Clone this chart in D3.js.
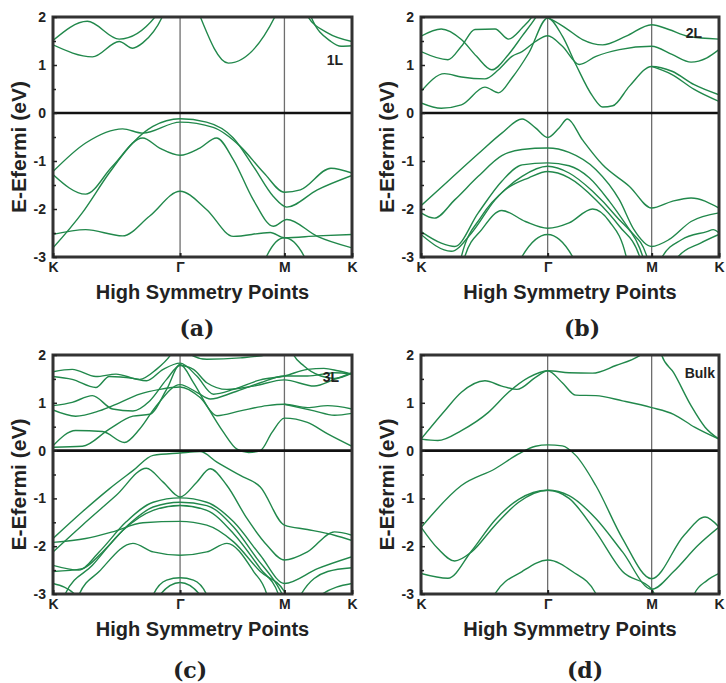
<!DOCTYPE html>
<html><head><meta charset="utf-8">
<script src="https://cdn.jsdelivr.net/npm/d3@7/dist/d3.min.js"></script>
<style>body{margin:0;background:#fff}svg text{font-family:"Liberation Sans",Arial,sans-serif;font-weight:bold;fill:#222}</style>
</head><body><svg id="chart" width="726" height="683"></svg>
<script>
// ---------- data ----------
const kLabels = ["K", "Γ", "M", "K"];
const kTicks = [0, 1, 2, 3];
const yTicks = [2, 1, 0, -1, -2, -3];
const yMinor = [1.5, 0.5, -0.5, -1.5, -2.5];
const panelLabels = ["(a)", "(b)", "(c)", "(d)"];
const layerLabels = ["1L", "2L", "3L", "Bulk"];
const xTitle = "High Symmetry Points";
const yTitle = "E-Efermi (eV)";

// each band: [k, E] with k = 0 (K), 1 (Γ), 2 (M), 3 (K)
const bandsA = [
  [[0,1.51],[0.27,1.91],[0.521,1.54],[0.812,2.03],[0.85,2.2]],
  [[0,1.42],[0.31,1.17],[0.521,1.49],[0.627,1.35],[0.706,1.46],[0.865,2.03],[0.9,2.25]],
  [[1.15,2.25],[1.189,2.03],[1.462,1.04],[1.91,2.01],[1.95,2.25]],
  [[2.3,2.25],[2.337,2.03],[2.638,1.67],[3,1.49]],
  [[2.35,2.25],[2.387,2.03],[2.688,1.49],[2.839,1.39],[3,1.40]],
  [[0,-1.22],[0.257,-0.625],[0.548,-0.33],[0.706,-0.42],[1,-0.19],[1.317,-0.3],[1.574,-0.69],[1.804,-1.25],[2,-1.65],[2.236,-1.60],[2.688,-1.15],[3,-1.25]],
  [[0,-2.81],[0.23,-2.08],[0.442,-1.25],[0.627,-0.625],[0.786,-0.28],[1,-0.12],[1.253,-0.19],[1.51,-0.52],[1.702,-1.11],[1.894,-1.74],[2.035,-1.96],[2.487,-1.60],[3,-1.3]],
  [[0,-1.28],[0.257,-1.69],[0.468,-1.11],[0.706,-0.52],[0.839,-0.73],[1,-0.88],[1.189,-0.73],[1.349,-0.52],[1.51,-0.97],[1.702,-1.81],[1.894,-2.36],[2.035,-2.22],[2.487,-2.57],[3,-2.81]],
  [[0,-2.53],[0.257,-2.43],[0.548,-2.56],[0.759,-2.15],[1,-1.63],[1.253,-2.01],[1.51,-2.57],[1.865,-2.49],[2,-2.6],[2.487,-2.56],[3,-2.53]],
  [[1.8,-3.2],[1.833,-2.97],[2,-2.6],[2.286,-2.97],[2.32,-3.2]]
];

const bandsB = [
  [[0,1.6],[0.16,1.75],[0.319,1.53],[0.439,1.18],[0.559,0.9],[0.691,1.22],[0.798,1.6],[0.904,1.98],[0.957,2.2]],
  [[0,1.28],[0.213,1.11],[0.319,1.39],[0.426,1.74],[0.585,1.75],[0.691,1.54],[0.798,1.77],[0.878,2.01],[0.92,2.2]],
  [[0,0.45],[0.186,0.82],[0.319,0.75],[0.505,0.71],[0.612,0.9],[0.718,1.18],[0.798,1.28],[0.904,1.49],[1,1.61],[1.142,1.39],[1.303,1.01],[1.465,1.18],[1.69,1.32],[2,1.39],[2.302,1.22],[2.585,1.06],[2.821,1.15],[3,1.32]],
  [[0.9,2.2],[0.95,2.02],[1,1.98],[1.174,1.77],[1.335,1.53],[1.529,1.42],[1.755,1.6],[2,1.84],[2.255,1.74],[2.538,1.6],[3,1.54]],
  [[0,0.21],[0.16,0.1],[0.319,0.17],[0.505,0.54],[0.612,0.42],[0.718,0.73],[0.851,1.25],[1,1.98],[1.142,1.6],[1.271,1.01],[1.432,0.35],[1.529,0.125],[1.626,0.15],[1.787,0.56],[2,0.97],[2.302,0.87],[2.632,0.59],[3,0.38]],
  [[2,0.97],[2.302,0.8],[2.632,0.49],[3,0.24]],
  [[0,-1.93],[0.213,-1.42],[0.452,-0.85],[0.638,-0.42],[0.798,-0.125],[0.904,-0.31],[1,-0.51],[1.11,-0.31],[1.19,-0.125],[1.335,-0.56],[1.529,-1.08],[1.787,-1.53],[2,-1.98],[2.302,-1.84],[2.585,-1.77],[3,-1.98]],
  [[0,-2.08],[0.106,-2.19],[0.266,-1.81],[0.452,-1.32],[0.638,-0.89],[0.798,-0.76],[1,-0.73],[1.206,-0.82],[1.465,-1.18],[1.69,-1.81],[1.83,-2.43],[2,-2.78],[2.255,-2.64],[2.585,-2.26],[3,-2.08]],
  [[0,-2.47],[0.16,-2.71],[0.266,-2.78],[0.452,-2.08],[0.638,-1.42],[0.798,-1.08],[1,-1.04],[1.206,-1.1],[1.4,-1.35],[1.594,-1.84],[1.787,-2.43],[1.948,-2.95],[1.98,-3.2]],
  [[0,-2.53],[0.239,-2.88],[0.399,-2.5],[0.585,-1.81],[0.798,-1.32],[1,-1.11],[1.206,-1.25],[1.432,-1.63],[1.658,-2.15],[1.884,-2.81],[1.948,-3.2]],
  [[0.3,-3.2],[0.319,-2.99],[0.479,-2.15],[0.665,-1.6],[0.851,-1.35],[1,-1.22],[1.206,-1.35],[1.465,-1.81],[1.69,-2.36],[1.884,-2.99],[1.9,-3.2]],
  [[0.33,-3.2],[0.346,-2.99],[0.479,-2.43],[0.638,-2.03],[0.824,-2.26],[1,-2.4],[1.206,-2.29],[1.432,-2.0],[1.594,-2.26],[1.755,-2.99],[1.77,-3.2]],
  [[0.77,-3.2],[0.798,-2.99],[1,-2.53],[1.239,-2.99],[1.26,-3.2]],
  [[2.13,-3.2],[2.16,-2.99],[2.443,-2.64],[2.82,-2.47],[2.915,-2.43],[3,-2.5]],
  [[2.37,-3.2],[2.396,-2.99],[2.726,-2.71],[3,-2.53]]
];

const bandsC = [
  [[0,1.65],[0.151,1.7],[0.337,1.55],[0.496,1.6],[0.682,1.49],[0.814,1.7],[0.92,1.98],[0.973,2.2]],
  [[0,1.55],[0.151,1.49],[0.337,1.32],[0.443,1.55],[0.629,1.51],[0.735,1.46],[0.867,1.7],[1,1.83],[1.16,1.56],[1.32,1.18],[1.513,1.28],[1.769,1.48],[2,1.56],[2.34,1.7],[2.585,1.72],[2.79,1.67],[3,1.6]],
  [[0,0.94],[0.151,1.01],[0.31,1.15],[0.469,0.87],[0.629,0.83],[0.761,1.04],[0.894,1.49],[1,1.78],[1.128,1.7],[1.256,1.42],[1.449,1.28],[1.705,1.35],[2,1.48],[2.44,1.35],[2.74,1.49],[3,1.63]],
  [[0,0.85],[0.178,0.72],[0.363,0.83],[0.523,1.0],[0.682,1.18],[0.841,1.28],[1,1.33],[1.192,1.11],[1.353,0.73],[1.577,0.83],[1.833,0.94],[2,0.97],[2.34,0.9],[2.64,0.94],[3,0.87]],
  [[0,0.1],[0.178,0.42],[0.39,0.4],[0.562,0.17],[0.682,0.45],[0.814,0.94],[1,1.38],[1.16,1.22],[1.29,1.08],[1.513,1.22],[1.769,1.42],[2,1.56],[2.34,1.56],[2.74,1.63],[3,1.6]],
  [[0,0.07],[0.231,0.09],[0.443,0.45],[0.629,0.72],[0.761,0.76],[0.894,1.28],[1,1.8],[1.128,1.42],[1.256,0.94],[1.417,0.38],[1.545,0.03],[1.657,-0.04],[1.769,0.0],[1.881,0.38],[2,0.68],[2.34,0.59],[2.64,0.35],[3,0.09]],
  [[1.03,2.2],[1.064,2.06],[1.256,1.91],[1.577,1.94],[1.833,2.01],[1.96,2.2]],
  [[2.1,2.2],[2.115,2.06],[2.29,1.77],[2.54,1.56],[2.74,1.51],[3,1.62]],
  [[2,0.97],[2.44,0.83],[2.74,0.74],[3,0.78]],
  [[0,-1.84],[0.231,-1.28],[0.443,-0.8],[0.629,-0.42],[0.788,-0.1],[1,-0.05],[1.192,-0.02],[1.353,-0.24],[1.577,-0.52],[1.769,-0.76],[2,-1.56],[2.34,-1.65],[2.74,-1.77],[3,-1.88]],
  [[0,-2.12],[0.231,-1.56],[0.496,-0.94],[0.735,-0.37],[0.867,-0.66],[1,-0.97],[1.16,-0.66],[1.288,-0.38],[1.449,-0.73],[1.641,-1.42],[1.833,-1.98],[2,-2.29],[2.34,-2.12],[2.74,-1.7],[3,-1.77]],
  [[0,-2.4],[0.204,-2.5],[0.363,-2.12],[0.576,-1.49],[0.788,-1.08],[1,-0.99],[1.256,-1.08],[1.513,-1.49],[1.769,-2.19],[2,-2.78],[2.49,-2.47],[3,-2.22]],
  [[0,-2.53],[0.231,-2.47],[0.39,-2.12],[0.602,-1.53],[0.788,-1.18],[1,-1.08],[1.256,-1.15],[1.513,-1.6],[1.737,-2.26],[1.929,-2.81],[2.04,-3.2]],
  [[0.07,-3.2],[0.098,-2.99],[0.31,-2.4],[0.549,-1.67],[0.788,-1.25],[1,-1.15],[1.256,-1.25],[1.513,-1.74],[1.769,-2.47],[1.945,-3.02],[1.96,-3.2]],
  [[0,-1.92],[0.257,-1.84],[0.469,-1.7],[0.708,-1.51],[1,-1.48],[1.256,-1.56],[1.513,-1.91],[1.769,-2.53],[2,-2.95],[2.05,-3.2]],
  [[0.18,-3.2],[0.204,-3.02],[0.363,-2.53],[0.629,-1.94],[0.788,-2.12],[1,-2.19],[1.256,-2.12],[1.449,-1.94],[1.705,-2.53],[1.833,-3.02],[1.85,-3.2]],
  [[0.76,-3.2],[0.788,-3.02],[0.894,-2.71],[1,-2.66],[1.128,-2.71],[1.256,-3.02],[1.28,-3.2]],
  [[0.82,-3.2],[0.841,-3.02],[1,-2.76],[1.192,-3.02],[1.21,-3.2]],
  [[2.2,-3.2],[2.24,-3.02],[2.64,-2.53],[3,-2.45]],
  [[2.5,-3.2],[2.54,-3.02],[3,-2.78]],
  [[0,-2.78],[0.178,-3.02],[0.2,-3.2]]
];

const bandsD = [
  [[0,0.24],[0.133,0.21],[0.319,0.42],[0.532,0.8],[0.691,1.22],[0.851,1.53],[1,1.67],[1.206,1.63],[1.431,1.62],[1.656,1.78],[1.881,1.98],[2.02,2.2]],
  [[0,0.24],[0.186,0.83],[0.319,1.22],[0.505,1.46],[0.638,1.35],[0.758,1.28],[0.904,1.53],[1,1.67],[1.141,1.42],[1.27,1.16],[1.463,1.15],[1.72,1.04],[2,0.9],[2.326,0.76],[2.637,0.49],[3,0.24]],
  [[2.12,2.2],[2.145,2.01],[2.326,1.63],[2.585,0.94],[2.793,0.49],[3,0.24]],
  [[0,-1.61],[0.319,-0.73],[0.585,-0.38],[0.771,-0.07],[0.904,0.09],[1,0.12],[1.141,0.1],[1.27,-0.1],[1.463,-0.73],[1.72,-1.84],[2,-2.68],[2.482,-1.77],[2.793,-1.39],[3,-1.6]],
  [[0,-1.6],[0.133,-2.05],[0.266,-2.31],[0.399,-2.12],[0.585,-1.56],[0.771,-1.08],[1,-0.83],[1.206,-0.94],[1.463,-1.42],[1.72,-2.12],[2,-2.9],[2.326,-2.53],[2.689,-1.98],[3,-1.6]],
  [[0,-2.57],[0.213,-2.67],[0.399,-2.1],[0.585,-1.45],[0.771,-1.02],[1,-0.83],[1.206,-1.0],[1.463,-1.7],[1.72,-2.53],[2,-2.9],[2.1,-3.2]],
  [[0.56,-3.2],[0.585,-2.99],[0.798,-2.53],[1,-2.29],[1.238,-2.53],[1.463,-2.99],[1.49,-3.2]],
  [[2.6,-3.2],[2.637,-2.99],[2.82,-2.72],[3,-2.57]]
];

const bandsAll = [bandsA, bandsB, bandsC, bandsD];

// ---------- layout ----------
const boxes = [
  {x0: 53, x1: 352, y0: 17, y1: 257},
  {x0: 421, x1: 719, y0: 17, y1: 257},
  {x0: 53, x1: 352, y0: 355, y1: 594},
  {x0: 421, x1: 719, y0: 355, y1: 594}
];
const subLabelPos = [[197, 336], [582, 336], [190, 678], [585, 678]];
const layerPos = [[343, 65], [702, 38], [339, 382], [715, 378]];
const green = "#21884b";

const svg = d3.select("#chart");

boxes.forEach((b, i) => {
  const w = b.x1 - b.x0;
  const x = d3.scaleLinear().domain(kTicks).range([b.x0, b.x0 + 0.425 * w, b.x0 + 0.774 * w, b.x1]);
  const y = d3.scaleLinear().domain([-3, 2]).range([b.y1, b.y0]);
  const g = svg.append("g");

  g.append("clipPath").attr("id", "clip" + i)
    .append("rect").attr("x", b.x0).attr("y", b.y0).attr("width", w).attr("height", b.y1 - b.y0);

  // high symmetry verticals
  g.selectAll("line.v").data([1, 2]).join("line")
    .attr("x1", d => x(d)).attr("x2", d => x(d))
    .attr("y1", b.y0).attr("y2", b.y1)
    .attr("stroke", "#6e6e6e").attr("stroke-width", 1.3);

  const line = d3.line().x(d => x(d[0])).y(d => y(d[1])).curve(d3.curveMonotoneX);
  g.append("g").attr("clip-path", `url(#clip${i})`)
    .selectAll("path").data(bandsAll[i]).join("path")
    .attr("d", line).attr("fill", "none").attr("stroke", green).attr("stroke-width", 1.4);

  // Fermi level
  g.append("line").attr("x1", b.x0).attr("x2", b.x1).attr("y1", y(0)).attr("y2", y(0))
    .attr("stroke", "#111").attr("stroke-width", 2.6);

  // frame
  g.append("rect").attr("x", b.x0).attr("y", b.y0).attr("width", w).attr("height", b.y1 - b.y0)
    .attr("fill", "none").attr("stroke", "#333").attr("stroke-width", 3);

  // axes
  const ya = g.append("g").attr("transform", `translate(${b.x0},0)`)
    .call(d3.axisLeft(y).tickValues(yTicks).tickSize(-4).tickPadding(7).tickFormat(d => String(d)));
  ya.select(".domain").remove();
  ya.selectAll("text").style("font-size", "14px").style("font-family", "'Liberation Sans',Arial,sans-serif").style("font-weight", "bold").attr("fill", "#222");
  ya.selectAll("line").attr("stroke", "#222").attr("stroke-width", 1.5);
  const ym = g.append("g").attr("transform", `translate(${b.x0},0)`)
    .call(d3.axisLeft(y).tickValues(yMinor).tickSize(-3).tickFormat(""));
  ym.select(".domain").remove();
  ym.selectAll("line").attr("stroke", "#222").attr("stroke-width", 1.5);

  const xa = g.append("g").attr("transform", `translate(0,${b.y1})`)
    .call(d3.axisBottom(x).tickValues(kTicks).tickSize(-4).tickPadding(5).tickFormat((d, j) => kLabels[j]));
  xa.select(".domain").remove();
  xa.selectAll("text").style("font-size", "14px").style("font-family", "'Liberation Sans',Arial,sans-serif").style("font-weight", "bold").attr("fill", "#222");
  xa.selectAll("line").attr("stroke", "#222").attr("stroke-width", 2);

  // titles
  g.append("text").attr("x", (b.x0 + b.x1) / 2).attr("y", b.y1 + 42)
    .attr("text-anchor", "middle").style("font-size", "20px").text(xTitle);
  g.append("text").attr("transform", `translate(${b.x0 - 27},${(b.y0 + b.y1) / 2 + 10}) rotate(-90)`)
    .attr("text-anchor", "middle").style("font-size", "21px").text(yTitle);
  g.append("text").attr("x", subLabelPos[i][0]).attr("y", subLabelPos[i][1])
    .attr("text-anchor", "middle").style("font-family", "'DejaVu Serif',serif").style("font-size", "22px").text(panelLabels[i]);
  g.append("text").attr("x", layerPos[i][0]).attr("y", layerPos[i][1])
    .attr("text-anchor", "end").style("font-size", "14px").text(layerLabels[i]);
});
</script>
</body></html>
